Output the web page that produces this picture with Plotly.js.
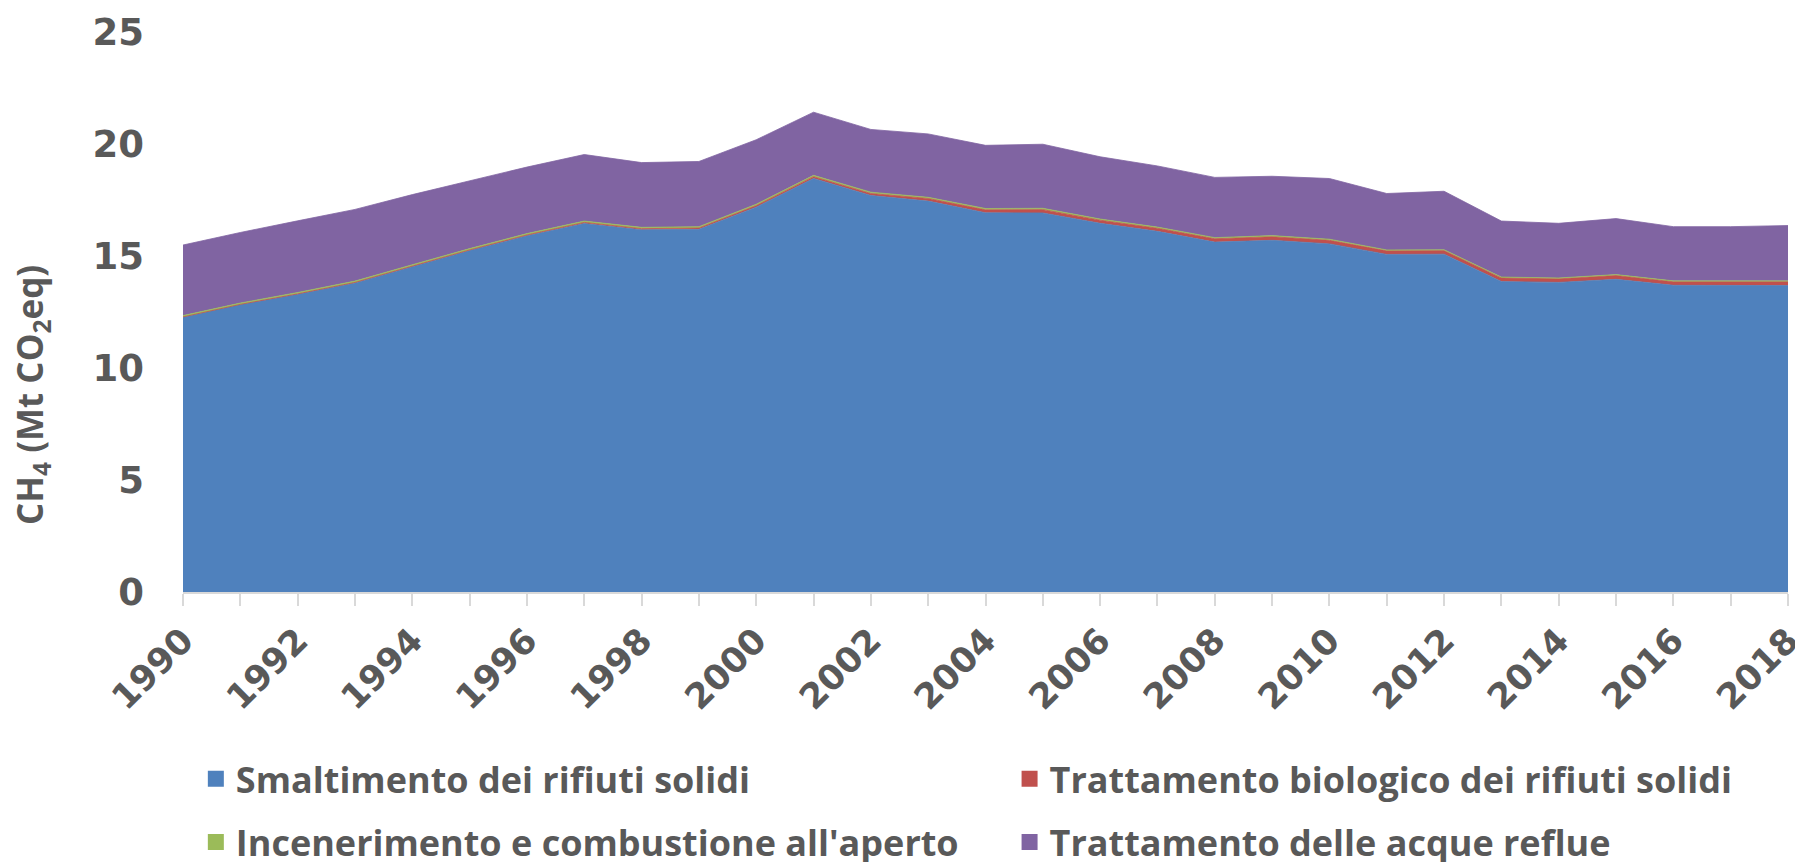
<!DOCTYPE html>
<html><head><meta charset="utf-8">
<script src="https://cdn.plot.ly/plotly-3.0.1.min.js"></script>
<style>html,body{margin:0;padding:0;background:#fff}#chart{width:1795px;height:862px}</style>
</head><body><div id="chart"></div>
<script>
const years = [1990,1991,1992,1993,1994,1995,1996,1997,1998,1999,2000,2001,2002,2003,2004,2005,2006,2007,2008,2009,2010,2011,2012,2013,2014,2015,2016,2017,2018];
const smaltimento = [12.27,12.83,13.29,13.80,14.52,15.24,15.90,16.45,16.17,16.19,17.18,18.46,17.70,17.45,16.93,16.92,16.46,16.10,15.62,15.70,15.54,15.07,15.08,13.86,13.82,13.96,13.69,13.68,13.68];
const biologico   = [0.01,0.01,0.02,0.02,0.03,0.03,0.04,0.05,0.05,0.06,0.07,0.08,0.09,0.12,0.13,0.15,0.14,0.14,0.15,0.16,0.16,0.16,0.16,0.16,0.16,0.17,0.16,0.16,0.17];
const incenerimento = [0.06,0.06,0.06,0.06,0.06,0.06,0.06,0.06,0.06,0.06,0.06,0.06,0.06,0.05,0.06,0.06,0.05,0.05,0.05,0.05,0.05,0.04,0.04,0.04,0.04,0.04,0.04,0.04,0.04];
const acque = [3.15,3.15,3.20,3.20,3.13,3.02,2.97,2.97,2.89,2.91,2.88,2.82,2.80,2.83,2.82,2.86,2.78,2.73,2.69,2.65,2.71,2.52,2.61,2.50,2.44,2.50,2.42,2.43,2.47];
const names = ["Smaltimento dei rifiuti solidi","Trattamento biologico dei rifiuti solidi","Incenerimento e combustione all'aperto","Trattamento delle acque reflue"];
const colors = ["#4F81BD","#C0504D","#9BBB59","#8064A2"];
const series = [smaltimento, biologico, incenerimento, acque];
const tickYears = [1990,1992,1994,1996,1998,2000,2002,2004,2006,2008,2010,2012,2014,2016,2018];
const yTitle = 'CH<sub>4</sub> (Mt CO<sub>2</sub>eq)';

const legendIds = ['legend','legend2','legend3','legend4'];
const traces = [];
series.forEach((s,i)=>{
  traces.push({x:years,y:s,type:'scatter',mode:'lines',stackgroup:'one',name:names[i],
    line:{width:0.8,color:colors[i]},fillcolor:colors[i],showlegend:false,hoverinfo:'x+y+name'});
});
names.forEach((n,i)=>{
  traces.push({x:[null],y:[null],type:'scatter',mode:'markers',name:n,legend:legendIds[i],
    marker:{symbol:'square',size:16,color:colors[i]},showlegend:true});
});

const font = "'DejaVu Sans', sans-serif";
const lfont = {family:"'Open Sans', sans-serif",size:36,color:'#595959',weight:'bold'};
const colX = [0.008, 0.515];
const rowY = [-0.3335, -0.4465];
const layout = {
  width:1795,height:862,
  margin:{l:183,r:7,t:32,b:270,autoexpand:false},
  paper_bgcolor:'#fff',plot_bgcolor:'#fff',
  showlegend:true,
  font:{family:font,color:'#595959'},
  xaxis:{range:[1990,2018],tickvals:tickYears,ticktext:tickYears.map(String),tickangle:-45,
    ticklabeloverflow:'allow',
    ticks:'outside',ticklen:12,tickcolor:'#D9D9D9',tickwidth:2,
    minor:{dtick:1,tick0:1990,ticks:'outside',ticklen:12,tickcolor:'#D9D9D9',tickwidth:2,showgrid:false},
    showline:true,linecolor:'#D9D9D9',linewidth:2,showgrid:false,zeroline:false,
    tickfont:{family:font,size:35,color:'#595959',weight:'bold'}},
  yaxis:{range:[0,25],dtick:5,showgrid:false,zeroline:false,showline:false,ticks:'',
    ticklabelstandoff:38,
    tickfont:{family:font,size:37,color:'#595959',weight:'bold'}},
  annotations:[{text:yTitle,textangle:-90,xref:'paper',yref:'paper',x:-0.094,y:0.352,
    xanchor:'center',yanchor:'middle',showarrow:false,
    font:{family:"'Open Sans', sans-serif",size:35,color:'#595959',weight:'bold'}}]
};
legendIds.forEach((id,i)=>{
  layout[id] = {orientation:'h',x:colX[i%2],xanchor:'left',y:rowY[Math.floor(i/2)],yanchor:'middle',
    itemwidth:30,font:lfont,bgcolor:'rgba(0,0,0,0)'};
});
Plotly.newPlot('chart',traces,layout,{displayModeBar:false,staticPlot:true});
</script></body></html>
